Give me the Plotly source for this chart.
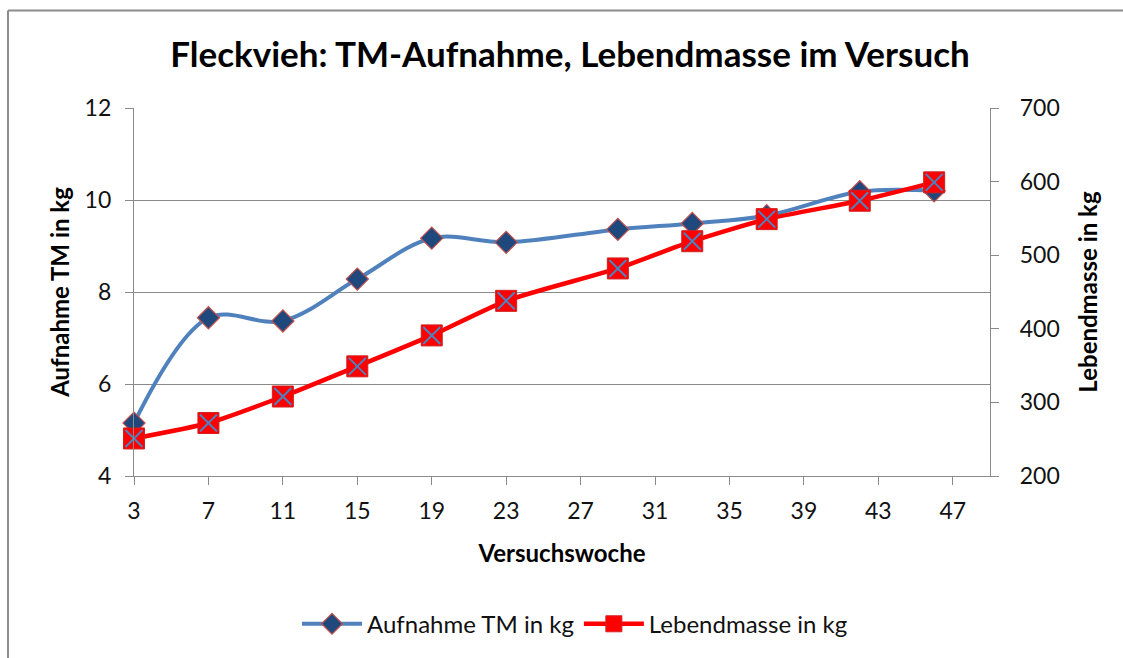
import plotly.graph_objects as go

weeks = [3, 7, 11, 15, 19, 23, 29, 33, 37, 42, 46]
aufnahme_tm = [5.15, 7.44, 7.37, 8.28, 9.17, 9.08, 9.36, 9.49, 9.66, 10.18, 10.2]
lebendmasse = [251, 272, 308, 349, 391, 438, 482, 519, 549, 574, 599]
x_ticks = [3, 7, 11, 15, 19, 23, 27, 31, 35, 39, 43, 47]

FONT = "Lato"
TXT = "#111111"
GRID = "#8a8a8a"

fig = go.Figure()
fig.add_trace(go.Scatter(
    x=weeks, y=aufnahme_tm, name="Aufnahme TM in kg", mode="lines+markers",
    line=dict(color="#4F81BD", width=4, shape="spline", smoothing=1.0),
    marker=dict(symbol="diamond", size=17, color="#1F497D",
                line=dict(color="#C0504D", width=1.2)),
    cliponaxis=False,
))
fig.add_trace(go.Scatter(
    x=weeks, y=lebendmasse, name="Lebendmasse in kg", mode="lines+markers",
    yaxis="y2",
    line=dict(color="#FF0000", width=4.5, shape="spline", smoothing=0.6),
    marker=dict(symbol="square", size=21, color="#FF0000",
                line=dict(color="#D02020", width=1)),
    cliponaxis=False,
))
fig.add_trace(go.Scatter(
    x=weeks, y=lebendmasse, mode="markers", yaxis="y2", showlegend=False,
    hoverinfo="skip",
    marker=dict(symbol="x-thin-open", size=17, color="#4F81BD",
                line=dict(color="#4F81BD", width=2)),
    cliponaxis=False,
))

W, H = 1123, 658
L, T = 134, 108
R = W - 990
B = H - 478
pw, ph = W - L - R, H - T - B

fig.update_layout(
    width=W, height=H,
    margin=dict(l=L, r=R, t=T, b=B),
    paper_bgcolor="white", plot_bgcolor="white",
    font=dict(family=FONT, color=TXT, size=23),
    title=dict(text="<b>Fleckvieh: TM-Aufnahme, Lebendmasse im Versuch</b>",
               x=570 / W, xanchor="center", y=1 - 55 / H, yanchor="middle",
               font=dict(family=FONT, size=35, color="#000000")),
    xaxis=dict(
        range=[3, 49], tickmode="array", tickvals=x_ticks,
        ticktext=[str(v) for v in x_ticks],
        showgrid=False, zeroline=False,
        showline=True, linecolor=GRID, linewidth=1.3,
        ticks="outside", ticklen=8, tickcolor=GRID, tickwidth=1.3,
        ticklabelstandoff=6,
        tickfont=dict(size=23, color=TXT),
        title=dict(text="<b>Versuchswoche</b>", font=dict(size=24, color="#000000"),
                   standoff=22),
    ),
    yaxis=dict(
        range=[4, 12], dtick=2, tick0=4,
        showgrid=True, gridcolor=GRID, gridwidth=1.3, zeroline=False,
        showline=True, linecolor=GRID, linewidth=1.3,
        ticks="outside", ticklen=8, tickcolor=GRID, tickwidth=1.3,
        ticklabelstandoff=9,
        tickfont=dict(size=23, color=TXT),
        title=dict(text="<b>Aufnahme TM in kg</b>", font=dict(size=24, color="#000000"),
                   standoff=8),
    ),
    yaxis2=dict(
        range=[200, 700], dtick=100, tick0=200, overlaying="y", side="right",
        showgrid=False, zeroline=False,
        showline=True, linecolor=GRID, linewidth=1.3,
        ticks="outside", ticklen=8, tickcolor=GRID, tickwidth=1.3,
        ticklabelstandoff=16,
        tickfont=dict(size=23, color=TXT),
        title=dict(text="<b>Lebendmasse in kg</b>", font=dict(size=24, color="#000000"),
                   standoff=21),
    ),
    legend=dict(orientation="h", x=(575 - L) / pw, xanchor="center",
                y=-(627 - 478) / ph, yanchor="middle",
                font=dict(size=24, color=TXT), itemwidth=60,
                bgcolor="rgba(0,0,0,0)"),
    showlegend=True,
)

# outer chart border: only left and top edges are visible in the reference
bx0 = (8 - L) / pw
by1 = 1 + (T - 10) / ph
fig.add_shape(type="line", xref="paper", yref="paper",
              x0=bx0, x1=bx0, y0=by1, y1=-(700 - 478) / ph,
              line=dict(color="#8c8c8c", width=2), layer="below")
fig.add_shape(type="line", xref="paper", yref="paper",
              x0=bx0, x1=(1200 - L) / pw, y0=by1, y1=by1,
              line=dict(color="#8c8c8c", width=2), layer="below")

fig.write_html(
    "out.html",
    config={"displayModeBar": False},
    post_script="document.body.style.margin='0';document.body.style.overflow='hidden';",
)
